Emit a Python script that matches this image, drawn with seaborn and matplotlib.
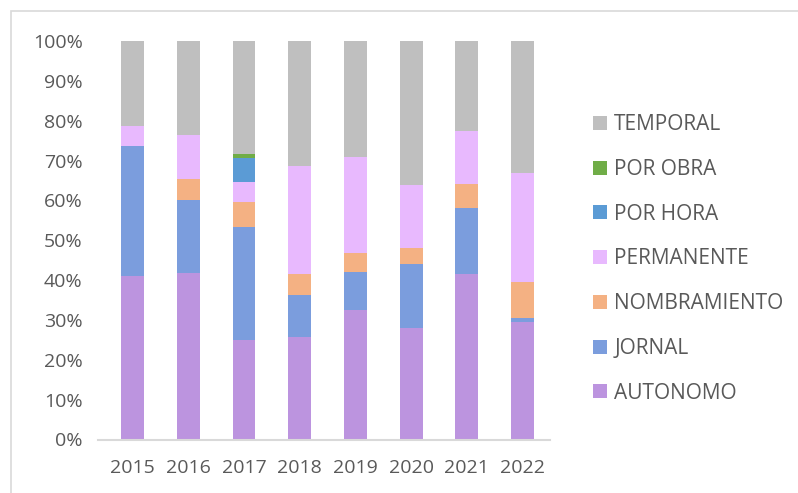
import matplotlib
matplotlib.use("Agg")
import matplotlib.pyplot as plt
from matplotlib.patches import Patch, Rectangle
from matplotlib.ticker import PercentFormatter
import numpy as np
import pandas as pd
import seaborn as sns

# values (percent of each year)
years = ["2015", "2016", "2017", "2018", "2019", "2020", "2021", "2022"]
autonomo = [41.0, 41.8, 25.0, 25.7, 32.5, 28.0, 41.5, 29.5]
jornal = [32.6, 18.3, 28.3, 10.6, 9.5, 16.0, 16.6, 1.0]
nombramiento = [0.0, 5.3, 6.3, 5.2, 4.8, 4.1, 6.0, 9.0]
permanente = [5.0, 11.0, 5.0, 27.1, 24.1, 15.8, 13.3, 27.4]
por_hora = [0.0, 0.0, 6.0, 0.0, 0.0, 0.0, 0.0, 0.0]
por_obra = [0.0, 0.0, 1.0, 0.0, 0.0, 0.0, 0.0, 0.0]
temporal = [21.3, 23.6, 28.4, 31.4, 29.1, 36.1, 22.6, 33.1]

series = ["AUTONOMO", "JORNAL", "NOMBRAMIENTO", "PERMANENTE", "POR HORA", "POR OBRA", "TEMPORAL"]
colors = ["#BC94DF", "#7B9DDD", "#F4B183", "#E8B9FE", "#5B9BD5", "#70AD47", "#BFBFBF"]

df = pd.DataFrame({
    "AUTONOMO": autonomo,
    "JORNAL": jornal,
    "NOMBRAMIENTO": nombramiento,
    "PERMANENTE": permanente,
    "POR HORA": por_hora,
    "POR OBRA": por_obra,
    "TEMPORAL": temporal,
}, index=years)

# 100% stacked: normalise each year, then cumulate
pct = df.div(df.sum(axis=1), axis=0)
cum = pct.cumsum(axis=1)
cum["year"] = years

sns.set_theme(style="white")
plt.rcParams["font.family"] = ["Open Sans", "DejaVu Sans"]
text_color = "#595959"

fig = plt.figure(figsize=(7.98, 4.93), dpi=100)
ax = fig.add_axes([98 / 798, 1 - 439.5 / 493, 452.4 / 798, (439.5 - 41) / 493])

# draw top series first so the lower ones cover it
for name, col in reversed(list(zip(series, colors))):
    sns.barplot(data=cum, x="year", y=name, color=col, width=0.41,
                saturation=1, ax=ax, linewidth=0)

ax.set_ylim(0, 1)
ax.set_xlim(-0.62, len(years) - 0.5)
ax.set_yticks(np.arange(0, 1.01, 0.1))
ax.yaxis.set_major_formatter(PercentFormatter(1.0, decimals=0))
ax.set_xlabel("")
ax.set_ylabel("")
ax.tick_params(axis="both", length=0, labelsize=14, colors=text_color)
ax.tick_params(axis="y", pad=11)
ax.tick_params(axis="x", pad=14)
for side in ["left", "right", "top"]:
    ax.spines[side].set_visible(False)
ax.spines["bottom"].set_color("#D9D9D9")
ax.spines["bottom"].set_linewidth(1.5)

handles = [Patch(facecolor=c, edgecolor="none", label=s)
           for s, c in zip(series, colors)][::-1]
fig.legend(handles=handles, loc="center left",
           bbox_to_anchor=(583 / 798, 1 - 259 / 493),
           frameon=False, fontsize=15, labelcolor=text_color,
           handlelength=0.65, handleheight=0.65, handletextpad=0.35,
           labelspacing=1.14, borderpad=0)

# chart frame (only top and left edges fall inside the image)
fig.add_artist(Rectangle((11 / 798, -0.1), 1.2, 1 - 11 / 493 + 0.1,
                         transform=fig.transFigure, fill=False,
                         edgecolor="#D9D9D9", linewidth=1.2))

fig.savefig("out.png", dpi=100)
plt.close(fig)
